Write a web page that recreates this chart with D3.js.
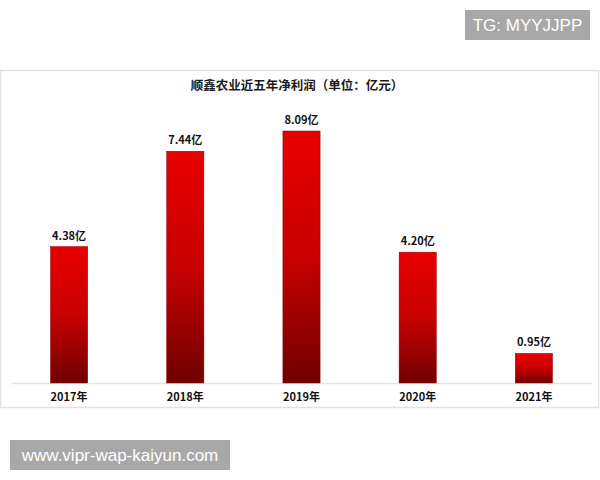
<!DOCTYPE html>
<html>
<head>
<meta charset="utf-8">
<script src="https://cdn.jsdelivr.net/npm/d3@7"></script>
<style>
  body { margin: 0; background: #fff; }
  svg { display: block; }
</style>
</head>
<body>
<div id="chart"></div>
<script>
// data
var years = ["2017年", "2018年", "2019年", "2020年", "2021年"];
var profits = [4.38, 7.44, 8.09, 4.20, 0.95];
var valueLabels = ["4.38亿", "7.44亿", "8.09亿", "4.20亿", "0.95亿"];
var chartTitle = "顺鑫农业近五年净利润（单位：亿元）";

var svgWidth = 600;
var svgHeight = 480;

var svg = d3.select("#chart")
  .append("svg")
  .attr("width", svgWidth)
  .attr("height", svgHeight);

var defs = svg.append("defs");
var grad = defs.append("linearGradient")
  .attr("id", "barGrad")
  .attr("x1", 0).attr("y1", 0)
  .attr("x2", 0).attr("y2", 1);
grad.append("stop").attr("offset", "0%").attr("stop-color", "#e80000");
grad.append("stop").attr("offset", "50%").attr("stop-color", "#c80000");
grad.append("stop").attr("offset", "100%").attr("stop-color", "#700000");

// frame
svg.append("rect")
  .attr("x", 0.5)
  .attr("y", 70.5)
  .attr("width", 598)
  .attr("height", 337)
  .attr("fill", "#fff")
  .attr("stroke", "#e2e2e2")
  .attr("stroke-width", 1.5);

svg.append("text")
  .attr("x", 297)
  .attr("y", 90)
  .attr("text-anchor", "middle")
  .attr("font-family", "'Noto Sans CJK SC', sans-serif")
  .attr("font-size", "12.5px")
  .attr("font-weight", "bold")
  .attr("fill", "#1a1a1a")
  .text(chartTitle);

var baseline = 383;

var x = d3.scaleBand()
  .domain(years)
  .range([11, 592])
  .paddingInner(0.68)
  .paddingOuter(0.34);

var y = d3.scaleLinear()
  .domain([0, 9])
  .range([baseline, baseline - 9 * 31.15]);

// baseline axis
var xAxis = d3.axisBottom(x).tickSize(0).tickPadding(10);
var axisG = svg.append("g")
  .attr("transform", `translate(0, ${baseline})`)
  .call(xAxis);
axisG.select(".domain")
  .attr("stroke", "#e4e4e4")
  .attr("stroke-width", 1.5);
axisG.selectAll("text")
  .attr("font-family", "'Noto Sans CJK SC', sans-serif")
  .attr("font-size", "11px")
  .attr("font-weight", "bold")
  .attr("fill", "#111");

var data = years.map((d, i) => ({ year: d, value: profits[i], label: valueLabels[i] }));

svg.selectAll("rect.bar")
  .data(data)
  .enter()
  .append("rect")
  .attr("class", "bar")
  .attr("x", d => x(d.year))
  .attr("y", d => y(d.value))
  .attr("width", x.bandwidth())
  .attr("height", d => baseline - y(d.value))
  .attr("fill", "url(#barGrad)")
  .attr("stroke", "#8a0000")
  .attr("stroke-width", 0.5);

svg.selectAll("text.val")
  .data(data)
  .enter()
  .append("text")
  .attr("class", "val")
  .attr("x", d => x(d.year) + x.bandwidth() / 2)
  .attr("y", d => y(d.value) - 7)
  .attr("text-anchor", "middle")
  .attr("font-family", "'Noto Sans CJK SC', sans-serif")
  .attr("font-size", "11px")
  .attr("font-weight", "bold")
  .attr("fill", "#111")
  .text(d => d.label);

// watermark boxes
function stamp(bx, by, bw, bh, txt) {
  svg.append("rect")
    .attr("x", bx).attr("y", by)
    .attr("width", bw).attr("height", bh)
    .attr("fill", "#a8a8a8");
  svg.append("text")
    .attr("x", bx + bw / 2)
    .attr("y", by + bh / 2 + 6)
    .attr("text-anchor", "middle")
    .attr("font-family", "'Liberation Sans', Arial, sans-serif")
    .attr("font-size", "17px")
    .attr("fill", "#fff")
    .text(txt);
}
stamp(465, 10, 125, 30, "TG: MYYJJPP");
stamp(10, 440, 220, 30, "www.vipr-wap-kaiyun.com");
</script>
</body>
</html>
